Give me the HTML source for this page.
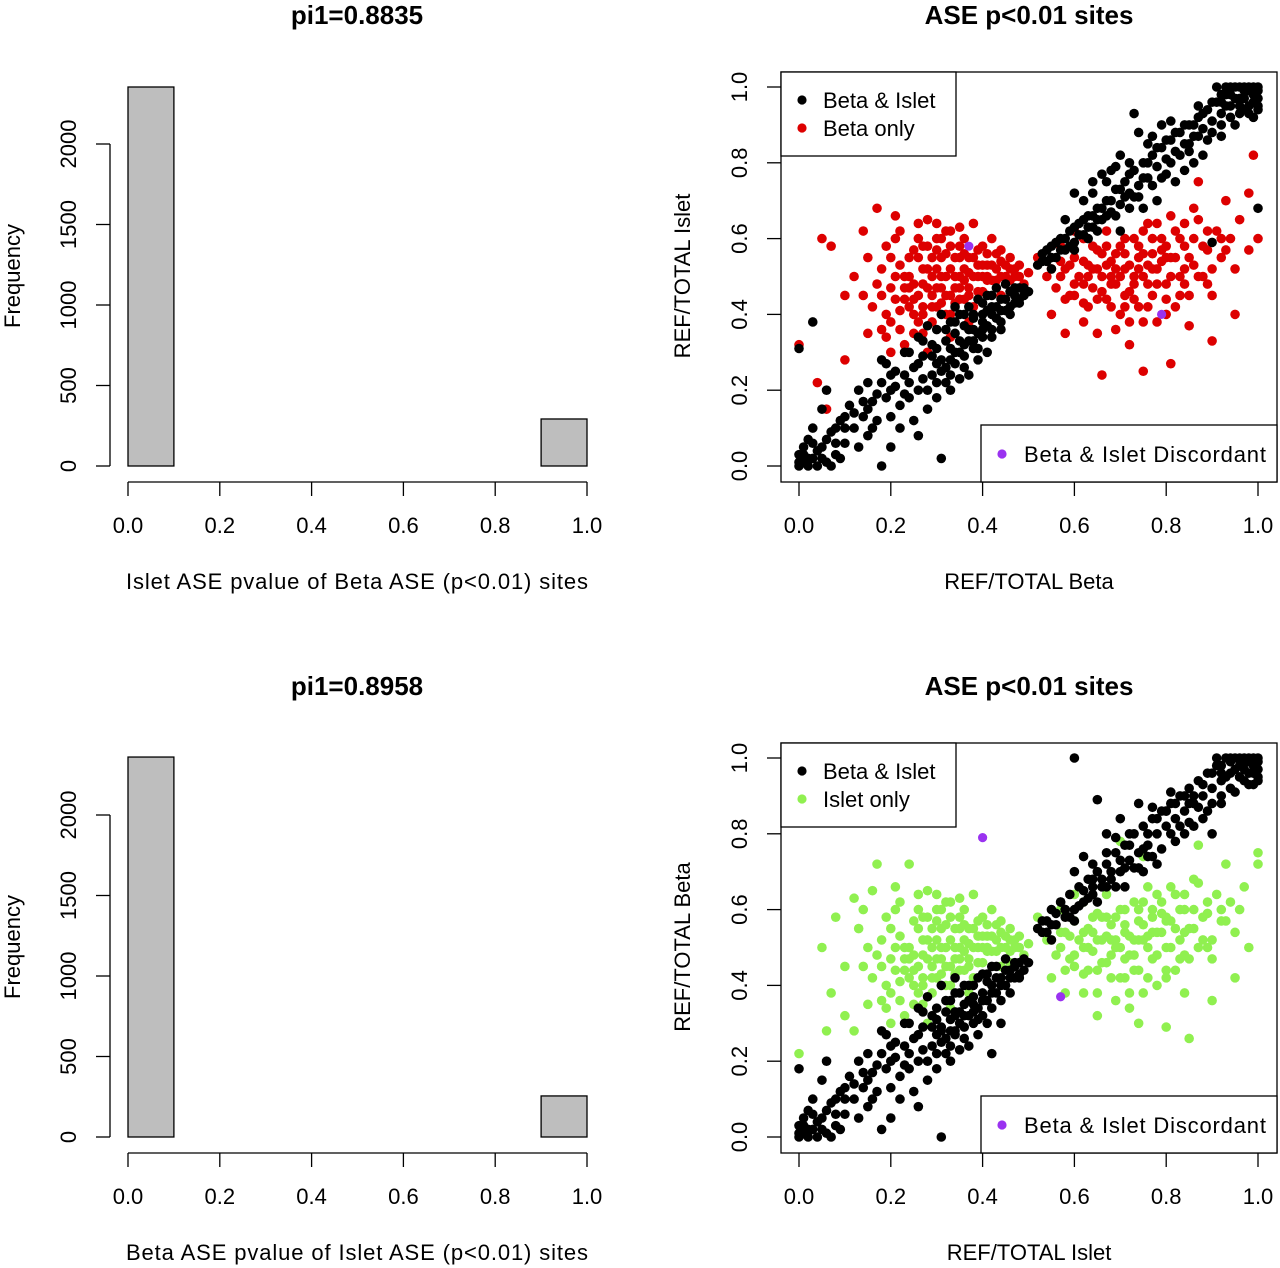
<!DOCTYPE html>
<html><head><meta charset="utf-8"><style>
html,body{margin:0;padding:0;background:#fff;}
svg{display:block;font-family:"Liberation Sans",Arial,sans-serif;}
</style></head><body>
<svg id="fig" width="1280" height="1268" viewBox="0 0 1280 1268" xmlns="http://www.w3.org/2000/svg"></svg>
<script>
// ---------- histogram data ----------
const histBinEdges = [0,0.1,0.2,0.3,0.4,0.5,0.6,0.7,0.8,0.9,1.0];
const histTopCounts = [2354,0,0,0,0,0,0,0,0,292];
const histBottomCounts = [2360,0,0,0,0,0,0,0,0,255];
const histYTicks = [0,500,1000,1500,2000];
const unitXTicks = [0,0.2,0.4,0.6,0.8,1.0];
const unitXTickLabels = ["0.0","0.2","0.4","0.6","0.8","1.0"];

// ---------- scatter data (top: Beta vs Islet) ----------
const topBothPts = [[0,0],[0.01,0.01],[0.02,0],[0.03,0.02],[0,0.03],[0.01,0.05],[0.04,0],[0.06,0.01],[0.02,0.07],[0.05,0.05],[0.08,0.03],[0.07,0.09],[0.1,0.06],[0.09,0.12],[0.12,0.1],[0.11,0.16],[0.14,0.13],[0.13,0.2],[0.16,0.17],[0.15,0.08],[0.18,0.22],[0.17,0.12],[0.2,0.2],[0.19,0.27],[0.22,0.16],[0.21,0.25],[0.24,0.22],[0.23,0.3],[0.26,0.27],[0.25,0.12],[0.27,0.33],[0.28,0.2],[0.29,0.29],[0.3,0.36],[0.31,0.25],[0.3,0.31],[0.32,0.33],[0.33,0.28],[0.33,0.38],[0.34,0.35],[0.35,0.3],[0.35,0.4],[0.36,0.37],[0.37,0.33],[0.37,0.42],[0.38,0.39],[0.39,0.35],[0.39,0.44],[0.4,0.4],[0.41,0.37],[0.41,0.45],[0.42,0.42],[0.43,0.39],[0.43,0.47],[0.44,0.44],[0.45,0.41],[0.45,0.48],[0.46,0.46],[0.47,0.43],[0.48,0.47],[0.49,0.45],[0.32,0.22],[0.36,0.26],[0.28,0.15],[0.26,0.08],[0.31,0.02],[0.2,0.05],[0.18,0.0],[0.05,0.15],[0.03,0.1],[0.06,0.2],[0.0,0.31],[0.03,0.38],[0.29,0.24],[0.34,0.3],[0.38,0.31],[0.4,0.34],[0.42,0.36],[0.44,0.38],[0.35,0.23],[0.39,0.28],[0.22,0.1],[0.36,0.32],[0.38,0.36],[0.4,0.38],[0.42,0.4],[0.33,0.31],[0.3,0.27],[0.27,0.23],[0.24,0.18],[0.15,0.15],[0.1,0.1],[0.08,0.06],[0.04,0.04],[0.02,0.02],[0.46,0.4],[0.47,0.47],[0.48,0.44],[0.44,0.41],
[0.52,0.53],[0.53,0.56],[0.54,0.54],[0.55,0.58],[0.56,0.55],[0.57,0.6],[0.58,0.57],[0.59,0.62],[0.6,0.59],[0.61,0.64],[0.62,0.61],[0.63,0.66],[0.64,0.63],[0.65,0.68],[0.66,0.65],[0.67,0.7],[0.68,0.67],[0.69,0.73],[0.7,0.69],[0.71,0.75],[0.72,0.72],[0.73,0.78],[0.74,0.74],[0.75,0.8],[0.76,0.76],[0.77,0.82],[0.78,0.79],[0.79,0.84],[0.8,0.81],[0.81,0.86],[0.82,0.83],[0.83,0.88],[0.84,0.85],[0.85,0.9],[0.86,0.87],[0.87,0.92],[0.88,0.89],[0.89,0.94],[0.9,0.91],[0.91,0.96],[0.92,0.93],[0.93,0.98],[0.94,0.95],[0.95,1.0],[0.96,0.97],[0.97,1.0],[0.98,0.99],[0.99,0.96],[1.0,1.0],[1.0,0.97],[0.97,0.94],[0.99,0.92],[0.95,0.9],[0.93,1.0],[0.91,1.0],[0.66,0.77],[0.6,0.72],[0.7,0.82],[0.74,0.88],[0.79,0.9],[0.64,0.75],[0.78,0.7],[0.84,0.78],[0.88,0.82],[0.92,0.87],[0.75,0.68],[0.7,0.62],[0.82,0.75],[0.86,0.8],[0.73,0.93],[0.9,0.59],[1.0,0.68],[0.87,0.95],[0.62,0.7],[0.58,0.65],[0.68,0.78],[0.76,0.85],[0.98,1.0],[1.0,0.94],[0.96,0.93],[0.94,0.98],[0.98,0.95],[0.55,0.55],[0.57,0.57],[0.6,0.63],[0.63,0.6],[0.65,0.65],[0.72,0.68],[0.8,0.77],[0.85,0.85]];
const topOnlyPts = [[0.12,0.5],[0.15,0.55],[0.17,0.68],[0.18,0.45],[0.19,0.58],[0.2,0.38],[0.21,0.5],[0.22,0.62],[0.23,0.44],[0.24,0.55],[0.25,0.35],[0.25,0.48],[0.26,0.6],[0.27,0.42],[0.28,0.52],[0.28,0.65],[0.29,0.38],[0.3,0.47],[0.3,0.57],[0.31,0.43],[0.32,0.5],[0.32,0.62],[0.33,0.4],[0.34,0.47],[0.34,0.55],[0.35,0.44],[0.36,0.52],[0.36,0.6],[0.37,0.47],[0.38,0.55],[0.38,0.42],[0.39,0.5],[0.4,0.58],[0.4,0.46],[0.41,0.53],[0.42,0.49],[0.43,0.56],[0.44,0.5],[0.45,0.53],[0.46,0.49],[0.47,0.52],[0.48,0.5],[0.49,0.48],[0.5,0.51],[0.23,0.5],[0.26,0.45],[0.29,0.55],[0.31,0.6],[0.33,0.58],[0.35,0.5],[0.27,0.48],[0.24,0.42],[0.22,0.36],[0.2,0.3],[0.15,0.35],[0.1,0.45],[0.05,0.6],[0.07,0.58],[0.0,0.32],[0.04,0.22],[0.06,0.15],[0.1,0.28],[0.14,0.62],[0.21,0.66],[0.3,0.64],[0.38,0.64],[0.42,0.6],[0.44,0.45],[0.37,0.38],[0.33,0.34],[0.28,0.3],[0.18,0.52],[0.16,0.42],[0.26,0.55],[0.4,0.5],[0.36,0.44],[0.3,0.52],[0.24,0.47],[0.33,0.45],[0.35,0.55],[0.31,0.5],[0.29,0.45],[0.27,0.58],[0.21,0.44],[0.19,0.4],[0.25,0.4],[0.37,0.51],[0.39,0.46],[0.41,0.49],[0.43,0.52],[0.46,0.55],
[0.52,0.55],[0.54,0.5],[0.56,0.47],[0.57,0.58],[0.58,0.52],[0.59,0.45],[0.6,0.55],[0.61,0.5],[0.62,0.6],[0.63,0.42],[0.63,0.53],[0.64,0.47],[0.65,0.57],[0.66,0.5],[0.67,0.62],[0.67,0.44],[0.68,0.54],[0.69,0.48],[0.7,0.58],[0.7,0.4],[0.71,0.52],[0.72,0.46],[0.73,0.6],[0.74,0.55],[0.74,0.42],[0.75,0.5],[0.76,0.64],[0.77,0.56],[0.77,0.45],[0.78,0.52],[0.79,0.6],[0.8,0.48],[0.81,0.55],[0.82,0.62],[0.82,0.42],[0.83,0.5],[0.84,0.58],[0.85,0.45],[0.86,0.53],[0.87,0.65],[0.88,0.5],[0.89,0.57],[0.9,0.45],[0.91,0.62],[0.92,0.55],[0.93,0.7],[0.94,0.6],[0.95,0.52],[0.96,0.65],[0.98,0.57],[1.0,0.6],[0.99,0.82],[0.98,0.72],[0.55,0.4],[0.58,0.35],[0.65,0.35],[0.72,0.32],[0.78,0.38],[0.8,0.4],[0.85,0.37],[0.9,0.33],[0.66,0.24],[0.75,0.25],[0.81,0.27],[0.89,0.48],[0.95,0.4],[0.87,0.75],[0.6,0.62],[0.73,0.5],[0.69,0.56],[0.76,0.48],[0.84,0.52],[0.64,0.52],[0.79,0.57],[0.71,0.45],[0.68,0.5],[0.74,0.58],[0.77,0.52],[0.8,0.55],[0.83,0.45],[0.66,0.56],[0.62,0.48]];
const topDiscPts = [[0.37,0.58],[0.79,0.4]];

// extra points filling the dense cores (shared shape in both scatters)
const coreBothPts = [[0.3,0.22],[0.31,0.28],[0.32,0.26],[0.33,0.24],[0.34,0.27],[0.35,0.33],[0.36,0.29],[0.37,0.36],[0.38,0.33],[0.39,0.31],[0.4,0.36],[0.41,0.41],[0.42,0.34],[0.43,0.42],[0.44,0.36],[0.45,0.44],[0.46,0.42],[0.47,0.45],[0.48,0.43],[0.49,0.47],[0.5,0.46],[0.42,0.45],[0.4,0.43],[0.38,0.4],[0.36,0.4],[0.34,0.38],[0.32,0.36],[0.29,0.32],[0.27,0.29],[0.25,0.26],[0.23,0.24],[0.21,0.21],[0.19,0.18],[0.17,0.19],[0.14,0.17],[0.12,0.14],[0.1,0.13],[0.08,0.1],[0.06,0.07],[0.05,0.02],[0.03,0.06],[0.01,0.03],[0.0,0.01],[0.07,0.0],[0.09,0.02],[0.13,0.05],[0.16,0.1],[0.2,0.13],[0.23,0.19],[0.26,0.2],[0.3,0.18],[0.33,0.2],[0.37,0.24],[0.41,0.3],[0.24,0.3],[0.26,0.34],[0.28,0.37],[0.31,0.4],[0.34,0.42],[0.2,0.24],[0.18,0.28],[0.15,0.22],
[0.55,0.52],[0.56,0.59],[0.58,0.6],[0.6,0.57],[0.61,0.61],[0.63,0.63],[0.65,0.62],[0.66,0.68],[0.68,0.7],[0.69,0.66],[0.71,0.71],[0.72,0.77],[0.73,0.71],[0.75,0.76],[0.76,0.8],[0.77,0.74],[0.78,0.84],[0.8,0.86],[0.81,0.8],[0.83,0.82],[0.84,0.9],[0.85,0.83],[0.87,0.87],[0.88,0.93],[0.89,0.86],[0.9,0.96],[0.92,0.9],[0.93,0.95],[0.94,0.92],[0.95,0.97],[0.96,1.0],[0.97,0.97],[0.98,0.93],[0.99,1.0],[1.0,0.99],[0.96,0.95],[0.92,0.98],[0.9,0.88],[0.86,0.9],[0.82,0.88],[0.79,0.76],[0.74,0.71],[0.7,0.73],[0.67,0.66],[0.64,0.66],[0.62,0.65],[0.59,0.58],[0.54,0.57],[0.53,0.54],[0.67,0.75],[0.72,0.8],[0.77,0.87],[0.81,0.91],[0.69,0.79],[0.64,0.72],[0.94,1.0],[0.92,0.96],[1.0,0.95],[0.99,0.98],[0.97,0.99]];
const coreOnlyPts = [[0.28,0.47],[0.29,0.5],[0.31,0.47],[0.32,0.45],[0.33,0.52],[0.34,0.5],[0.35,0.47],[0.36,0.49],[0.37,0.55],[0.38,0.5],[0.39,0.53],[0.4,0.53],[0.41,0.5],[0.42,0.53],[0.43,0.49],[0.44,0.54],[0.45,0.5],[0.46,0.52],[0.47,0.5],[0.48,0.53],[0.3,0.42],[0.32,0.4],[0.27,0.4],[0.25,0.44],[0.23,0.47],[0.22,0.53],[0.25,0.57],[0.28,0.58],[0.31,0.55],[0.33,0.62],[0.35,0.58],[0.39,0.57],[0.36,0.56],[0.34,0.43],[0.29,0.42],[0.26,0.38],[0.22,0.41],[0.2,0.47],[0.18,0.36],[0.24,0.5],[0.27,0.52],[0.3,0.6],[0.32,0.56],[0.37,0.45],[0.41,0.56],[0.44,0.57],[0.46,0.46],[0.2,0.55],[0.17,0.48],[0.14,0.45],[0.21,0.6],[0.26,0.64],[0.35,0.63],[0.19,0.34],[0.23,0.32],[0.27,0.35],
[0.55,0.52],[0.57,0.5],[0.59,0.53],[0.6,0.48],[0.62,0.54],[0.63,0.5],[0.65,0.52],[0.66,0.46],[0.67,0.53],[0.68,0.48],[0.69,0.52],[0.7,0.5],[0.71,0.56],[0.72,0.53],[0.73,0.48],[0.74,0.52],[0.75,0.56],[0.76,0.53],[0.77,0.6],[0.78,0.48],[0.79,0.54],[0.8,0.58],[0.81,0.5],[0.82,0.55],[0.83,0.6],[0.84,0.48],[0.85,0.55],[0.86,0.6],[0.87,0.5],[0.88,0.58],[0.6,0.45],[0.62,0.43],[0.65,0.44],[0.68,0.42],[0.71,0.42],[0.73,0.44],[0.76,0.42],[0.8,0.44],[0.64,0.58],[0.67,0.58],[0.71,0.6],[0.75,0.62],[0.78,0.64],[0.81,0.66],[0.84,0.64],[0.86,0.68],[0.89,0.62],[0.92,0.6],[0.9,0.52],[0.93,0.57],[0.75,0.38],[0.72,0.38],[0.69,0.36],[0.62,0.38],[0.58,0.44],[0.57,0.54]];

// ---------- scatter data (bottom: Islet vs Beta) ----------
const botBothPts = [[0,0],[0.01,0.01],[0.02,0],[0.03,0.02],[0,0.03],[0.01,0.05],[0.04,0],[0.06,0.01],[0.02,0.07],[0.05,0.05],[0.08,0.03],[0.07,0.09],[0.1,0.06],[0.09,0.12],[0.12,0.1],[0.11,0.16],[0.14,0.13],[0.13,0.2],[0.16,0.17],[0.15,0.08],[0.18,0.22],[0.17,0.12],[0.2,0.2],[0.19,0.27],[0.22,0.16],[0.21,0.25],[0.24,0.22],[0.23,0.3],[0.26,0.27],[0.25,0.12],[0.27,0.33],[0.28,0.2],[0.29,0.29],[0.3,0.34],[0.31,0.25],[0.3,0.31],[0.32,0.33],[0.33,0.28],[0.33,0.36],[0.34,0.33],[0.35,0.3],[0.35,0.38],[0.36,0.35],[0.37,0.32],[0.37,0.4],[0.38,0.37],[0.39,0.34],[0.39,0.42],[0.4,0.38],[0.41,0.36],[0.41,0.43],[0.42,0.4],[0.43,0.38],[0.43,0.45],[0.44,0.42],[0.45,0.4],[0.45,0.47],[0.46,0.44],[0.47,0.42],[0.48,0.46],[0.49,0.44],[0.32,0.22],[0.36,0.26],[0.28,0.15],[0.26,0.08],[0.31,0.0],[0.2,0.05],[0.18,0.02],[0.05,0.15],[0.03,0.1],[0.0,0.18],[0.06,0.2],[0.29,0.24],[0.34,0.28],[0.38,0.3],[0.4,0.32],[0.42,0.22],[0.44,0.3],[0.35,0.23],[0.39,0.27],[0.22,0.1],[0.36,0.32],[0.38,0.35],[0.4,0.36],[0.42,0.38],[0.33,0.31],[0.3,0.27],[0.27,0.23],[0.24,0.18],[0.15,0.15],[0.1,0.1],[0.08,0.06],[0.04,0.04],[0.02,0.02],[0.46,0.38],[0.47,0.46],[0.48,0.42],[0.44,0.4],[0.31,0.29],[0.34,0.32],
[0.52,0.55],[0.53,0.57],[0.54,0.54],[0.55,0.6],[0.56,0.56],[0.57,0.62],[0.58,0.58],[0.59,0.64],[0.6,0.6],[0.61,0.66],[0.62,0.62],[0.63,0.68],[0.64,0.64],[0.65,0.7],[0.66,0.66],[0.67,0.72],[0.68,0.68],[0.69,0.75],[0.7,0.7],[0.71,0.77],[0.72,0.73],[0.73,0.8],[0.74,0.75],[0.75,0.82],[0.76,0.77],[0.77,0.84],[0.78,0.8],[0.79,0.86],[0.8,0.82],[0.81,0.88],[0.82,0.84],[0.83,0.9],[0.84,0.86],[0.85,0.92],[0.86,0.88],[0.87,0.94],[0.88,0.9],[0.89,0.96],[0.9,0.92],[0.91,0.98],[0.92,0.94],[0.93,1.0],[0.94,0.96],[0.95,1.0],[0.96,0.98],[0.97,1.0],[0.98,0.99],[0.99,0.96],[1.0,1.0],[1.0,0.97],[0.97,0.94],[0.99,0.93],[0.95,0.91],[0.91,1.0],[0.67,0.8],[0.62,0.74],[0.7,0.84],[0.74,0.88],[0.6,0.7],[0.78,0.72],[0.84,0.8],[0.88,0.84],[0.92,0.88],[0.75,0.7],[0.71,0.66],[0.82,0.78],[0.86,0.82],[0.65,0.89],[0.6,1.0],[0.57,0.62],[0.98,1.0],[1.0,0.94],[0.96,0.95],[0.94,0.99],[0.98,0.96],[0.55,0.56],[0.58,0.6],[0.64,0.68],[0.8,0.86],[0.85,0.88],[0.9,0.8],[0.76,0.74]];
const botOnlyPts = [[0.08,0.58],[0.12,0.63],[0.15,0.5],[0.17,0.72],[0.18,0.45],[0.19,0.58],[0.2,0.38],[0.21,0.5],[0.22,0.62],[0.23,0.44],[0.24,0.72],[0.25,0.35],[0.25,0.48],[0.26,0.6],[0.27,0.42],[0.28,0.52],[0.28,0.65],[0.29,0.38],[0.3,0.47],[0.3,0.57],[0.31,0.43],[0.32,0.5],[0.32,0.62],[0.33,0.4],[0.34,0.47],[0.34,0.55],[0.35,0.44],[0.36,0.52],[0.36,0.6],[0.37,0.47],[0.38,0.55],[0.38,0.42],[0.39,0.5],[0.4,0.58],[0.4,0.46],[0.41,0.53],[0.42,0.49],[0.43,0.56],[0.44,0.5],[0.45,0.53],[0.46,0.49],[0.47,0.52],[0.48,0.5],[0.49,0.48],[0.5,0.51],[0.23,0.5],[0.26,0.45],[0.29,0.55],[0.31,0.6],[0.33,0.58],[0.35,0.5],[0.27,0.48],[0.24,0.42],[0.22,0.36],[0.2,0.3],[0.15,0.35],[0.1,0.45],[0.05,0.5],[0.07,0.38],[0.0,0.22],[0.06,0.28],[0.1,0.32],[0.14,0.6],[0.21,0.66],[0.3,0.64],[0.38,0.64],[0.42,0.6],[0.44,0.45],[0.37,0.38],[0.33,0.34],[0.28,0.3],[0.18,0.52],[0.16,0.42],[0.26,0.55],[0.4,0.5],[0.36,0.44],[0.3,0.52],[0.24,0.47],[0.33,0.45],[0.35,0.55],[0.31,0.5],[0.29,0.45],[0.27,0.58],[0.21,0.44],[0.19,0.4],[0.25,0.4],[0.37,0.51],[0.39,0.46],[0.41,0.49],[0.43,0.52],[0.46,0.55],[0.13,0.55],[0.16,0.65],[0.12,0.28],
[0.52,0.58],[0.54,0.52],[0.56,0.48],[0.57,0.6],[0.58,0.54],[0.59,0.47],[0.6,0.57],[0.61,0.52],[0.62,0.62],[0.63,0.44],[0.63,0.55],[0.64,0.49],[0.65,0.59],[0.66,0.52],[0.67,0.64],[0.67,0.46],[0.68,0.56],[0.69,0.5],[0.7,0.6],[0.7,0.42],[0.71,0.54],[0.72,0.48],[0.73,0.62],[0.74,0.57],[0.74,0.44],[0.75,0.52],[0.76,0.66],[0.77,0.58],[0.77,0.47],[0.78,0.54],[0.79,0.62],[0.8,0.5],[0.81,0.57],[0.82,0.64],[0.82,0.44],[0.83,0.52],[0.84,0.6],[0.85,0.47],[0.86,0.55],[0.87,0.67],[0.88,0.52],[0.89,0.59],[0.9,0.47],[0.91,0.64],[0.92,0.57],[0.93,0.72],[0.94,0.62],[0.95,0.54],[0.96,0.6],[0.97,0.66],[1.0,0.75],[1.0,0.72],[0.98,0.5],[0.55,0.42],[0.58,0.38],[0.65,0.38],[0.72,0.34],[0.78,0.4],[0.8,0.42],[0.84,0.38],[0.9,0.36],[0.65,0.32],[0.74,0.3],[0.8,0.29],[0.85,0.26],[0.89,0.5],[0.95,0.42],[0.87,0.77],[0.6,0.64],[0.73,0.52],[0.69,0.58],[0.76,0.5],[0.84,0.54],[0.64,0.54],[0.79,0.59],[0.71,0.47],[0.68,0.52],[0.74,0.6],[0.77,0.54],[0.8,0.57],[0.83,0.47],[0.66,0.58],[0.62,0.5],[0.7,0.78],[0.75,0.74]];
const botDiscPts = [[0.4,0.79],[0.57,0.37]];

const svg = document.getElementById('fig');
const NS = 'http://www.w3.org/2000/svg';
function mk(tag, attrs, parent){ const e=document.createElementNS(NS,tag); for(const k in attrs) e.setAttribute(k,attrs[k]); (parent||svg).appendChild(e); return e; }
function txt(s, attrs, parent){ const e=mk('text',attrs,parent); e.textContent=s; return e; }

function histogram(off, counts, title, xlabel, key){
  const g = mk('g',{});
  
  
  const X = v => 128 + v*459;
  const Y = v => 466+off - v*(322/2000);
  const t = txt(title,{x:357,y:24+off,'text-anchor':'middle','font-size':26,'font-weight':'bold'},g);
  
  
  for(let i=0;i<counts.length;i++){
    const y = Y(counts[i]);
    const r = mk('rect',{x:X(histBinEdges[i]),y:y,width:X(histBinEdges[i+1])-X(histBinEdges[i]),height:Y(0)-y,fill:'#bebebe',stroke:'#000','stroke-width':1.3},g);
    
    
  }
  const xa = mk('g',{},g);
  
  
  mk('line',{x1:X(0),x2:X(1),y1:482+off,y2:482+off,stroke:'#000','stroke-width':1.3},xa);
  unitXTicks.forEach((v,i)=>{ mk('line',{x1:X(v),x2:X(v),y1:482+off,y2:496+off,stroke:'#000','stroke-width':1.3},xa);
    txt(unitXTickLabels[i],{x:X(v),y:533+off,'text-anchor':'middle','font-size':22},xa); });
  const ya = mk('g',{},g);
  
  
  mk('line',{x1:110,x2:110,y1:Y(0),y2:Y(2000),stroke:'#000','stroke-width':1.3},ya);
  histYTicks.forEach(v=>{ mk('line',{x1:96,x2:110,y1:Y(v),y2:Y(v),stroke:'#000','stroke-width':1.3},ya);
    txt(String(v),{x:0,y:0,'text-anchor':'middle','font-size':22,transform:`translate(76,${Y(v)}) rotate(-90)`},ya); });
  const xl = txt(xlabel,{x:357,y:589+off,'text-anchor':'middle','font-size':22,'textLength':462},g);
  
  
  const yl = txt('Frequency',{x:0,y:0,'text-anchor':'middle','font-size':22,transform:`translate(20,${276+off}) rotate(-90)`},g);
  
  
}
histogram(0, histTopCounts, 'pi1=0.8835', 'Islet ASE pvalue of Beta ASE (p<0.01) sites', 'top');
histogram(671, histBottomCounts, 'pi1=0.8958', 'Beta ASE pvalue of Islet ASE (p<0.01) sites', 'bottom');

function scatter(off, both, only, disc, onlyColor, onlyLabel, xlabel, ylabel, key){
  const g = mk('g',{});
  
  
  const X = v => 799 + v*459;
  const Y = v => 466+off - v*379;
  const t = txt('ASE p<0.01 sites',{x:1029,y:24+off,'text-anchor':'middle','font-size':26,'font-weight':'bold'},g);
  
  
  const pts = mk('g',{},g);
  
  
  only.forEach(p=>{ const c=mk('circle',{cx:X(p[0]),cy:Y(p[1]),r:4.8,fill:onlyColor},pts);
    
     });
  both.forEach(p=>{ const c=mk('circle',{cx:X(p[0]),cy:Y(p[1]),r:4.8,fill:'#000'},pts);
    
     });
  disc.forEach(p=>{ const c=mk('circle',{cx:X(p[0]),cy:Y(p[1]),r:4.6,fill:'#9a32f0'},pts);
    
     });
  mk('rect',{x:781,y:72+off,width:496,height:410,fill:'none',stroke:'#000','stroke-width':1.3},g);
  const xa = mk('g',{},g);
  
  
  unitXTicks.forEach((v,i)=>{ mk('line',{x1:X(v),x2:X(v),y1:482+off,y2:496+off,stroke:'#000','stroke-width':1.3},xa);
    txt(unitXTickLabels[i],{x:X(v),y:533+off,'text-anchor':'middle','font-size':22},xa); });
  const ya = mk('g',{},g);
  
  
  unitXTicks.forEach((v,i)=>{ mk('line',{x1:767,x2:781,y1:Y(v),y2:Y(v),stroke:'#000','stroke-width':1.3},ya);
    txt(unitXTickLabels[i],{x:0,y:0,'text-anchor':'middle','font-size':22,transform:`translate(747,${Y(v)}) rotate(-90)`},ya); });
  const xl = txt(xlabel,{x:1029,y:589+off,'text-anchor':'middle','font-size':22},g);
  
  
  const yl = txt(ylabel,{x:0,y:0,'text-anchor':'middle','font-size':22,transform:`translate(690,${276+off}) rotate(-90)`},g);
  
  
  const lg = mk('g',{},g);
  
  
  mk('rect',{x:781,y:72+off,width:175,height:84,fill:'#fff',stroke:'#000','stroke-width':1.3},lg);
  mk('circle',{cx:802,cy:100+off,r:4.6,fill:'#000'},lg);
  txt('Beta & Islet',{x:823,y:108+off,'font-size':22},lg);
  mk('circle',{cx:802,cy:128+off,r:4.6,fill:onlyColor},lg);
  txt(onlyLabel,{x:823,y:136+off,'font-size':22},lg);
  const lg2 = mk('g',{},g);
  
  
  mk('rect',{x:981,y:425+off,width:296,height:57,fill:'#fff',stroke:'#000','stroke-width':1.3},lg2);
  mk('circle',{cx:1002,cy:454+off,r:4.6,fill:'#9a32f0'},lg2);
  txt('Beta & Islet Discordant',{x:1024,y:462+off,'font-size':22,'textLength':242},lg2);
}
scatter(0, topBothPts.concat(coreBothPts), topOnlyPts.concat(coreOnlyPts), topDiscPts, '#dd0000', 'Beta only', 'REF/TOTAL Beta', 'REF/TOTAL Islet', 'top');
scatter(671, botBothPts.concat(coreBothPts), botOnlyPts.concat(coreOnlyPts), botDiscPts, '#90f050', 'Islet only', 'REF/TOTAL Islet', 'REF/TOTAL Beta', 'bottom');
</script>
</body></html>
